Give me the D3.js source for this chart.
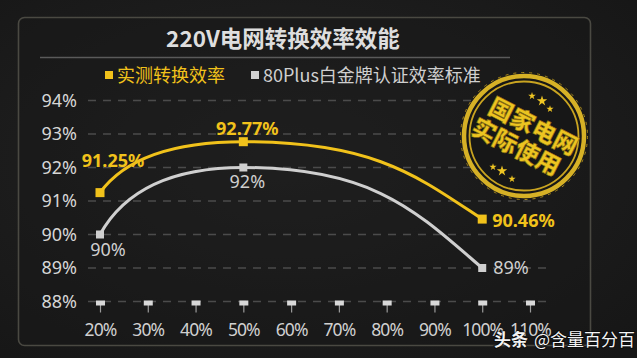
<!DOCTYPE html>
<html><head><meta charset="utf-8">
<script src="https://cdn.jsdelivr.net/npm/d3@7"></script>
<style>html,body{margin:0;padding:0;background:#1b1b1b;overflow:hidden}</style>
</head><body><svg id="c" width="637" height="358"></svg>
<script>
// ---- data ----
const title = "220V电网转换效率效能";
const seriesNames = ["实测转换效率", "80Plus白金牌认证效率标准"];
const loads = [20, 50, 100];
const measured = [91.25, 92.77, 90.46];
const standard = [90, 92, 89];
const xTicks = [20, 30, 40, 50, 60, 70, 80, 90, 100, 110];
const yTicks = [88, 89, 90, 91, 92, 93, 94];
const stampLines = ["国家电网", "实际使用"];
const watermark = ["头条", "@含量百分百"];

const W = 637, H = 358;
const YELLOW = "#f1c21b", GRAY = "#cfcfcf";
const NUM = "'Noto Sans', 'Noto Sans CJK SC', sans-serif";
const CJK = "'Noto Sans CJK SC', 'Noto Sans', sans-serif";

const svg = d3.select("#c");
const defs = svg.append("defs");
const bg = defs.append("radialGradient").attr("id", "bg").attr("cx", "45%").attr("cy", "45%").attr("r", "75%");
bg.append("stop").attr("offset", "0%").attr("stop-color", "#242424");
bg.append("stop").attr("offset", "100%").attr("stop-color", "#161616");
svg.append("rect").attr("width", W).attr("height", H).attr("fill", "url(#bg)");

// frame
svg.append("rect").attr("x", 18.5).attr("y", 17.5).attr("width", 572).attr("height", 328)
  .attr("rx", 6).attr("fill", "#181818").attr("fill-opacity", 0.45)
  .attr("stroke", "#4a4942").attr("stroke-width", 1.6);

// title
svg.append("text").attr("x", 283).attr("y", 47).attr("text-anchor", "middle")
  .attr("font-family", CJK).attr("font-weight", "bold").attr("font-size", 22.5)
  .attr("fill", "#dedede").text(title);
svg.append("line").attr("x1", 40).attr("x2", 510).attr("y1", 57.5).attr("y2", 57.5)
  .attr("stroke", "#5a5a5a").attr("stroke-width", 1.6);

// legend
const legend = [{x: 105, c: YELLOW, t: seriesNames[0]}, {x: 251, c: GRAY, t: seriesNames[1]}];
legend.forEach(l => {
  svg.append("rect").attr("x", l.x).attr("y", 71).attr("width", 8).attr("height", 8).attr("fill", l.c);
  svg.append("text").attr("x", l.x + 12).attr("y", 82).attr("font-family", CJK)
    .attr("font-size", 18).attr("fill", l.c).text(l.t);
});

// scales
const x = d3.scaleLinear().domain([20, 110]).range([100, 530]);
const y = d3.scaleLinear().domain([88, 94]).range([301.5, 100.5]);

// grid
svg.append("g").selectAll("line").data(yTicks).join("line")
  .attr("x1", 88).attr("x2", 547).attr("y1", d => y(d)).attr("y2", d => y(d))
  .attr("stroke", "#4b4b4b").attr("stroke-width", 1.5).attr("stroke-dasharray", "8,7");

// y axis
const yAxis = svg.append("g").attr("transform", "translate(88,0)")
  .call(d3.axisLeft(y).tickValues(yTicks).tickFormat(d => d + "%").tickSize(0).tickPadding(11));
yAxis.select(".domain").remove();
yAxis.selectAll("text").attr("font-family", NUM).attr("font-size", 18).attr("fill", "#d6d6d6");

// x axis
const xAxis = svg.append("g").attr("transform", "translate(0," + y(88) + ")")
  .call(d3.axisBottom(x).tickValues(xTicks).tickFormat(d => d + "%").tickSize(0));
xAxis.select(".domain").remove();
xAxis.selectAll("text").attr("y", 34).attr("dy", 0).attr("font-family", NUM)
  .attr("font-size", 17.5).attr("letter-spacing", -0.9).attr("fill", "#d0d0d0");
xAxis.selectAll(".tick").append("line").attr("x1", 0).attr("x2", 0).attr("y1", 2).attr("y2", 11)
  .attr("stroke", "#9a9a9a").attr("stroke-width", 1.2);
xAxis.selectAll(".tick").append("rect").attr("x", -4.5).attr("y", -1).attr("width", 9).attr("height", 5)
  .attr("fill", "#d8d8d8");

// stamp
const sx = 524, sy = 136;
const stamp = svg.append("g").attr("transform", `translate(${sx},${sy})`);
stamp.append("circle").attr("r", 62).attr("fill", "#171717");
stamp.append("circle").attr("r", 60).attr("fill", "none").attr("stroke", "#d6b126").attr("stroke-width", 4.5);
stamp.append("circle").attr("r", 54.5).attr("fill", "none").attr("stroke", "#c9a421").attr("stroke-width", 1.8);
stamp.append("circle").attr("r", 63.5).attr("fill", "none").attr("stroke", "#a8891c").attr("stroke-width", 1).attr("stroke-dasharray", "3,5");
const st = stamp.append("g").attr("transform", "rotate(27)");
st.append("text").attr("x", 4).attr("y", -4).attr("text-anchor", "middle")
  .attr("font-family", CJK).attr("font-weight", "900").attr("font-size", 24)
  .attr("fill", "#ecc421").attr("stroke", "#8a6e10").attr("stroke-width", 0.6).text(stampLines[0]);
st.append("text").attr("x", -2).attr("y", 22).attr("text-anchor", "middle")
  .attr("font-family", CJK).attr("font-weight", "900").attr("font-size", 24)
  .attr("fill", "#ecc421").attr("stroke", "#8a6e10").attr("stroke-width", 0.6).text(stampLines[1]);
const stars = [[8, -40, 18], [18, -35, 34], [26, -27, 16], [-31, 31, 16], [-22, 35, 34], [-12, 43, 16]];
stamp.selectAll("path.star").data(stars).join("path").attr("class", "star")
  .attr("transform", d => `translate(${d[0]},${d[1]})`)
  .attr("d", d => d3.symbol(d3.symbolStar, d[2])()).attr("fill", "#eec523");

// curve: flat tangent at interior extremum, steeper handles at the ends
function arcCurve(context) {
  return {
    lineStart() { this.p = []; },
    lineEnd() {
      const p = this.p, n = p.length;
      context.moveTo(p[0][0], p[0][1]);
      for (let i = 0; i < n - 1; i++) {
        const A = p[i], B = p[i + 1], dx = B[0] - A[0], dy = B[1] - A[1];
        const c1 = i === 0 ? [A[0] + 0.15 * dx, A[1] + 0.58 * dy] : [A[0] + 0.55 * dx, A[1]];
        const c2 = i + 1 === n - 1 ? [B[0] - 0.27 * dx, B[1] - 0.55 * dy] : [B[0] - 0.55 * dx, B[1]];
        context.bezierCurveTo(c1[0], c1[1], c2[0], c2[1], B[0], B[1]);
      }
    },
    point(px, py) { this.p.push([px, py]); },
    areaStart() {}, areaEnd() {}
  };
}
const line = d3.line().x(d => x(d[0])).y(d => y(d[1])).curve(arcCurve);

function drawSeries(vals, color, sz) {
  const data = loads.map((l, i) => [l, vals[i]]);
  svg.append("path").datum(data).attr("d", line).attr("fill", "none")
    .attr("stroke", color).attr("stroke-width", 3);
  svg.append("g").selectAll("rect").data(data).join("rect")
    .attr("x", d => x(d[0]) - sz / 2).attr("y", d => y(d[1]) - sz / 2)
    .attr("width", sz).attr("height", sz).attr("fill", color);
  return data;
}
const sD = drawSeries(standard, GRAY, 8);
const mD = drawSeries(measured, YELLOW, 9);

// labels
const mPos = [[13, -26, "middle"], [4, -7, "middle"], [10, 8, "start"]];
svg.append("g").selectAll("text").data(mD).join("text")
  .attr("x", (d, i) => x(d[0]) + mPos[i][0]).attr("y", (d, i) => y(d[1]) + mPos[i][1])
  .attr("text-anchor", (d, i) => mPos[i][2])
  .attr("font-family", NUM).attr("font-weight", "bold").attr("font-size", 18)
  .attr("fill", YELLOW).text(d => d[1] + "%");
const sPos = [[8, 21, "middle"], [4, 20, "middle"], [11, 6, "start"]];
svg.append("g").selectAll("text").data(sD).join("text")
  .attr("x", (d, i) => x(d[0]) + sPos[i][0]).attr("y", (d, i) => y(d[1]) + sPos[i][1])
  .attr("text-anchor", (d, i) => sPos[i][2])
  .attr("font-family", NUM).attr("font-size", 18)
  .attr("fill", "#cfcfcf").text(d => d[1] + "%");

// watermark
const wm = svg.append("text").attr("x", 494).attr("y", 346).attr("font-family", CJK)
  .attr("font-size", 17).attr("fill", "#f4f4f4")
  .attr("style", "paint-order:stroke").attr("stroke", "#000").attr("stroke-opacity", 0.5).attr("stroke-width", 2);
wm.append("tspan").attr("font-weight", "bold").text(watermark[0]);
wm.append("tspan").attr("dx", 6).text(watermark[1]);
</script></body></html>
